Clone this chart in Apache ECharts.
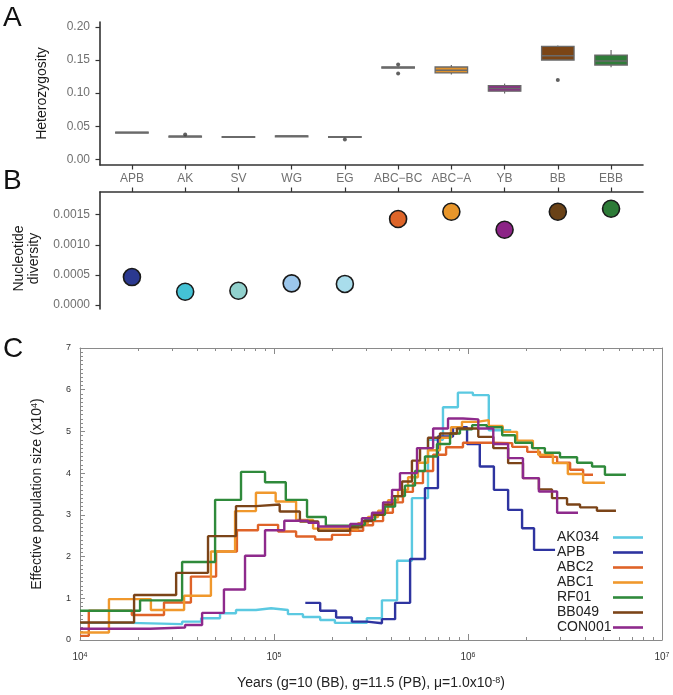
<!DOCTYPE html>
<html><head><meta charset="utf-8">
<script src="https://cdn.jsdelivr.net/npm/echarts@6/dist/echarts.min.js"></script>
<style>html,body{margin:0;padding:0;background:#fff}#c{width:673px;height:695px}</style>
</head><body><div id="c"></div>
<script>
// ---------- Panel A: heterozygosity boxplots ----------
const populations = ['APB','AK','SV','WG','EG','ABC−BC','ABC−A','YB','BB','EBB'];
const hetMin = [0.0400,0.0340,0.0335,0.0345,0.0335,0.1375,0.1280,0.0994,0.1501,0.1390];
const hetQ1  = [0.0402,0.0343,0.0337,0.0347,0.0337,0.1380,0.1305,0.1029,0.1501,0.1425];
const hetMed = [0.0405,0.0346,0.0340,0.0350,0.0340,0.1387,0.1345,0.1070,0.1566,0.1485];
const hetQ3  = [0.0409,0.0349,0.0343,0.0353,0.0343,0.1395,0.1395,0.1114,0.1706,0.1575];
const hetMax = [0.0411,0.0352,0.0345,0.0355,0.0345,0.1400,0.1425,0.1144,0.1721,0.1651];
const hetOutliers = [[2,0.0375],[5,0.0300],[6,0.1434],[6,0.1295],[9,0.1199]];
const hetTicks = [0, 0.05, 0.10, 0.15, 0.20];
const boxFill = ['#5a5a5a','#5a5a5a','#5a5a5a','#5a5a5a','#5a5a5a','#5a5a5a','#e0922c','#8c2a87','#7b4516','#2f7d39'];

// ---------- Panel B: nucleotide diversity ----------
const nucDiv = [0.000464,0.000220,0.000237,0.000360,0.000350,0.001430,0.001550,0.001250,0.001550,0.001600];
const nucTicks = [0, 0.0005, 0.0010, 0.0015];
const popColors = ['#2b3990','#44c2d5','#91d1cd','#9cc7ec','#a9ddec','#de6529','#e8962b','#8c2486','#6a4217','#2d7b37'];

// ---------- Panel C: PSMC (years, Ne x10^4) ----------
const ak034 = [[1.00e4,0.41],[1.81e4,0.38],[3.36e4,0.44],[4.21e4,0.52],[5.27e4,0.64],[6.37e4,0.72],[8.07e4,0.76],[9.66e4,0.72],[1.18e5,0.62],[1.41e5,0.55],[1.73e5,0.48],[2.06e5,0.41],[3.01e5,0.52],[3.60e5,0.95],[4.31e5,1.90],[5.14e5,3.40],[6.22e5,4.80],[7.43e5,5.58],[8.87e5,5.93],[1.06e6,5.87],[1.28e6,5.03],[1.67e6,5.03]];
const apb = [[1.45e5,0.89],[1.73e5,0.70],[2.09e5,0.54],[2.52e5,0.44],[3.01e5,0.40],[3.60e5,0.50],[4.21e5,0.89],[5.03e5,1.94],[6.00e5,3.64],[7.00e5,4.88],[8.37e5,5.10],[9.89e5,4.70],[1.15e6,4.16],[1.36e6,3.60],[1.61e6,3.12],[1.90e6,2.68],[2.19e6,2.16],[2.81e6,2.16]];
const abc2 = [[1.00e4,0.10],[1.11e4,0.70],[1.85e4,0.60],[2.71e4,0.90],[3.73e4,1.52],[5.03e4,2.12],[6.44e4,2.63],[8.27e4,2.76],[1.05e5,2.60],[1.30e5,2.48],[1.63e5,2.41],[1.99e5,2.52],[2.47e5,2.62],[2.88e5,2.75],[3.24e5,2.85],[3.65e5,3.05],[4.10e5,3.30],[4.62e5,3.55],[5.20e5,3.76],[5.86e5,4.05],[6.61e5,4.44],[7.71e5,4.62],[9.42e5,4.73],[1.30e6,4.72],[1.69e6,4.63],[2.02e6,4.51],[2.35e6,4.39],[2.88e6,4.25],[3.36e6,4.08],[3.92e6,3.96],[4.41e6,3.96]];
const abc1 = [[1.00e4,0.18],[1.41e4,0.98],[2.32e4,0.72],[3.44e4,1.06],[4.73e4,2.12],[6.30e4,3.09],[8.07e4,3.53],[1.02e5,3.32],[1.30e5,2.88],[1.59e5,2.67],[2.32e5,2.65],[2.71e5,2.80],[3.05e5,2.95],[3.44e5,3.10],[3.87e5,3.35],[4.36e5,3.60],[4.91e5,3.90],[5.52e5,4.25],[6.22e5,4.55],[7.17e5,4.85],[8.17e5,5.10],[9.31e5,5.23],[1.11e6,5.27],[1.28e6,5.13],[1.51e6,4.99],[1.79e6,4.78],[2.16e6,4.60],[2.30e6,4.44],[2.74e6,4.24],[3.27e6,3.98],[3.92e6,3.77],[5.08e6,3.77]];
const rf01 = [[1.00e4,0.70],[2.04e4,0.95],[3.36e4,1.87],[4.97e4,3.36],[6.76e4,4.03],[8.99e4,3.78],[1.15e5,3.36],[1.48e5,2.95],[1.85e5,2.74],[2.62e5,2.76],[2.94e5,2.88],[3.32e5,3.00],[3.73e5,3.20],[4.21e5,3.45],[4.73e5,3.70],[5.33e5,4.05],[6.00e5,4.40],[6.92e5,4.70],[8.08e5,4.95],[9.09e5,5.05],[1.05e6,5.15],[1.25e6,5.10],[1.50e6,4.91],[1.75e6,4.73],[2.14e6,4.60],[2.49e6,4.49],[2.98e6,4.38],[3.65e6,4.25],[4.36e6,4.16],[5.08e6,3.96],[6.52e6,3.96]];
const bb049 = [[1.00e4,0.42],[1.90e4,1.08],[3.13e4,1.61],[4.57e4,2.49],[6.37e4,3.21],[8.07e4,3.25],[1.07e5,3.08],[1.36e5,2.84],[1.69e5,2.62],[2.47e5,2.70],[2.84e5,2.85],[3.20e5,3.00],[3.65e5,3.25],[4.06e5,3.45],[4.57e5,3.80],[5.14e5,4.30],[5.66e5,4.60],[6.22e5,4.85],[7.17e5,4.95],[8.77e5,5.07],[1.13e6,4.87],[1.35e6,4.60],[1.61e6,4.24],[1.92e6,3.88],[2.32e6,3.61],[2.71e6,3.40],[3.24e6,3.25],[3.78e6,3.18],[4.62e6,3.10],[5.79e6,3.10]];
const con001 = [[1.00e4,0.27],[2.30e4,0.30],[3.48e4,0.36],[4.26e4,0.65],[5.52e4,1.21],[7.09e4,2.02],[8.99e4,2.63],[1.13e5,2.86],[1.50e5,2.81],[1.69e5,2.72],[2.47e5,2.78],[2.84e5,2.92],[3.20e5,3.05],[3.65e5,3.30],[4.06e5,3.60],[4.46e5,4.00],[5.46e5,4.60],[6.61e5,5.07],[7.89e5,5.31],[9.42e5,5.29],[1.13e6,5.07],[1.35e6,4.70],[1.61e6,4.36],[1.92e6,3.88],[2.32e6,3.56],[2.88e6,3.05],[3.69e6,3.05]];
const psmcNames = ['AK034','APB','ABC2','ABC1','RF01','BB049','CON001'];
const psmcData = [ak034, apb, abc2, abc1, rf01, bb049, con001];
const psmcColors = ['#5bc9e1','#2e34a0','#df6328','#f0982c','#2f8a3b','#7b4418','#8e2a8c'];

const FONT = 'Liberation Sans, Arial, sans-serif';
const minorLog = [];
for (let d = 4; d < 7; d++) for (let m = 2; m <= 9; m++) minorLog.push(d + Math.log10(m));
const catIdx = populations.map((p, i) => i + 1);

const chart = echarts.init(document.getElementById('c'), null, {renderer: 'canvas'});

function boxItem(params, api) {
  const i = api.value(0);
  const w = api.size([0.61, 0])[0];
  const pMin = api.coord([i, api.value(1)]);
  const pQ1 = api.coord([i, api.value(2)]);
  const pMed = api.coord([i, api.value(3)]);
  const pQ3 = api.coord([i, api.value(4)]);
  const pMax = api.coord([i, api.value(5)]);
  const stroke = '#6a6a6a';
  return {type: 'group', children: [
    {type: 'line', shape: {x1: pMax[0], y1: pMax[1], x2: pQ3[0], y2: pQ3[1]}, style: {stroke, lineWidth: 1.2}},
    {type: 'line', shape: {x1: pQ1[0], y1: pQ1[1], x2: pMin[0], y2: pMin[1]}, style: {stroke, lineWidth: 1.2}},
    {type: 'rect', shape: {x: pMed[0] - w / 2, y: pQ3[1], width: w, height: Math.max(pQ1[1] - pQ3[1], 0.8)},
      style: {fill: boxFill[params.dataIndex], stroke, lineWidth: 1.3}},
    {type: 'line', shape: {x1: pMed[0] - w / 2, y1: pMed[1], x2: pMed[0] + w / 2, y2: pMed[1]}, style: {stroke, lineWidth: 1.6}}
  ]};
}

const axisDark = {show: true, onZero: false, lineStyle: {color: '#333', width: 1.6}};
const tickDark = {lineStyle: {color: '#333', width: 1.2}, length: 4.5};
const labelGrey = {color: '#707070', fontSize: 12, fontFamily: FONT};
const greyLine = {show: true, onZero: false, lineStyle: {color: '#8a8a8a', width: 1}};

const option = {
  animation: false,
  backgroundColor: '#fff',
  textStyle: {fontFamily: FONT},
  grid: [
    {left: 100, top: 22, width: 543, height: 143},
    {left: 100, top: 192, width: 543, height: 117},
    {left: 80, top: 348, width: 582, height: 292}
  ],
  xAxis: [
    {gridIndex: 0, type: 'value', min: 0.4, max: 10.6, position: 'bottom', splitLine: {show: false},
      axisLine: axisDark, axisTick: Object.assign({customValues: catIdx}, tickDark),
      axisLabel: Object.assign({customValues: catIdx, margin: 8, formatter: v => populations[Math.round(v) - 1]}, labelGrey)},
    {gridIndex: 1, type: 'value', min: 0.4, max: 10.6, position: 'top', splitLine: {show: false},
      axisLine: axisDark, axisTick: Object.assign({customValues: catIdx}, tickDark), axisLabel: {show: false}},
    {gridIndex: 2, type: 'log', logBase: 10, min: 1e4, max: 1e7, position: 'bottom', splitLine: {show: false},
      axisLine: greyLine,
      axisTick: {inside: true, length: 6, lineStyle: {color: '#8a8a8a'}},
      axisLabel: {margin: 12, color: '#333', fontSize: 10, fontFamily: FONT,
        formatter: v => '10{sup|' + Math.round(Math.log10(v)) + '}',
        rich: {sup: {fontSize: 7, verticalAlign: 'top', fontFamily: FONT, color: '#333'}}},
      name: 'Years (g=10 (BB), g=11.5 (PB), μ=1.0x10{sup|-8})', nameLocation: 'middle', nameGap: 36,
      nameTextStyle: {fontSize: 14, color: '#222', fontFamily: FONT,
        rich: {sup: {fontSize: 9, verticalAlign: 'top', fontFamily: FONT, color: '#222'}}}},
    {gridIndex: 2, type: 'log', logBase: 10, min: 1e4, max: 1e7, position: 'top', splitLine: {show: false},
      axisLine: greyLine,
      axisTick: {inside: true, length: 6, lineStyle: {color: '#8a8a8a'}}, axisLabel: {show: false}},
    {gridIndex: 2, type: 'value', min: 4, max: 7, position: 'bottom', splitLine: {show: false},
      axisLine: {show: false, onZero: false}, axisTick: {customValues: minorLog, inside: true, length: 3, lineStyle: {color: '#8a8a8a'}},
      axisLabel: {show: false}},
    {gridIndex: 2, type: 'value', min: 4, max: 7, position: 'top', splitLine: {show: false},
      axisLine: {show: false, onZero: false}, axisTick: {customValues: minorLog, inside: true, length: 3, lineStyle: {color: '#8a8a8a'}},
      axisLabel: {show: false}}
  ],
  yAxis: [
    {gridIndex: 0, type: 'value', min: -0.0086, max: 0.2075, splitLine: {show: false},
      axisLine: axisDark, axisTick: Object.assign({customValues: hetTicks}, tickDark),
      axisLabel: Object.assign({customValues: hetTicks, margin: 10, formatter: v => v.toFixed(2)}, labelGrey),
      name: 'Heterozygosity', nameLocation: 'middle', nameGap: 51,
      nameTextStyle: {fontSize: 14, color: '#1a1a1a', fontFamily: FONT}},
    {gridIndex: 1, type: 'value', min: -0.0000667, max: 0.001878, splitLine: {show: false},
      axisLine: axisDark, axisTick: Object.assign({customValues: nucTicks}, tickDark),
      axisLabel: Object.assign({customValues: nucTicks, margin: 10, formatter: v => v.toFixed(4)}, labelGrey),
      name: 'Nucleotide\ndiversity', nameLocation: 'middle', nameGap: 58,
      nameTextStyle: {fontSize: 14, lineHeight: 15, color: '#1a1a1a', fontFamily: FONT, padding: [0, 16, 0, 0]}},
    {gridIndex: 2, type: 'value', min: 0, max: 7, interval: 1, splitLine: {show: false},
      axisLine: greyLine,
      axisTick: {inside: true, length: 5, lineStyle: {color: '#8a8a8a'}},
      minorTick: {show: true, splitNumber: 10, length: 3, lineStyle: {color: '#8a8a8a'}},
      axisLabel: {margin: 9, color: '#333', fontSize: 9, fontFamily: FONT},
      name: 'Effective population size (x10{sup|4})', nameLocation: 'middle', nameGap: 36,
      nameTextStyle: {fontSize: 14, color: '#222', fontFamily: FONT,
        rich: {sup: {fontSize: 9, verticalAlign: 'top', fontFamily: FONT, color: '#222'}}}},
    {gridIndex: 2, type: 'value', min: 0, max: 7, position: 'right', splitLine: {show: false},
      axisLine: greyLine, axisTick: {show: false}, axisLabel: {show: false}}
  ],
  legend: {
    data: psmcNames, orient: 'vertical', left: 557, top: 530, padding: 0, itemGap: 0,
    align: 'right', icon: 'rect', itemWidth: 30, itemHeight: 2.6,
    formatter: n => '{t|' + n + '}',
    textStyle: {fontSize: 14, lineHeight: 15, color: '#222', fontFamily: FONT,
      rich: {t: {width: 51, align: 'left', fontSize: 14, lineHeight: 15, color: '#222', fontFamily: FONT}}}
  },
  graphic: [
    {type: 'text', left: 3, top: 4, style: {text: 'A', fontSize: 28, fontFamily: FONT, fill: '#111'}},
    {type: 'text', left: 3, top: 167, style: {text: 'B', fontSize: 28, fontFamily: FONT, fill: '#111'}},
    {type: 'text', left: 3, top: 335, style: {text: 'C', fontSize: 28, fontFamily: FONT, fill: '#111'}}
  ],
  series: [
    {type: 'custom', xAxisIndex: 0, yAxisIndex: 0, renderItem: boxItem, encode: {x: 0, y: [1, 2, 3, 4, 5]},
      data: populations.map((p, i) => [i + 1, hetMin[i], hetQ1[i], hetMed[i], hetQ3[i], hetMax[i]])},
    {type: 'scatter', xAxisIndex: 0, yAxisIndex: 0, data: hetOutliers, symbolSize: 4,
      itemStyle: {color: '#3a3a3a'}},
    {type: 'scatter', xAxisIndex: 1, yAxisIndex: 1, symbolSize: 17,
      data: nucDiv.map((v, i) => ({value: [i + 1, v], itemStyle: {color: popColors[i]}})),
      itemStyle: {borderColor: '#1a1a1a', borderWidth: 1.6, opacity: 1}},
    ...psmcNames.map((n, k) => ({
      name: n, type: 'line', step: 'end', xAxisIndex: 2, yAxisIndex: 2, data: psmcData[k],
      showSymbol: false, symbol: 'none', color: psmcColors[k],
      lineStyle: {color: psmcColors[k], width: 2.4}, itemStyle: {color: psmcColors[k]}
    }))
  ]
};
chart.setOption(option);
</script></body></html>
